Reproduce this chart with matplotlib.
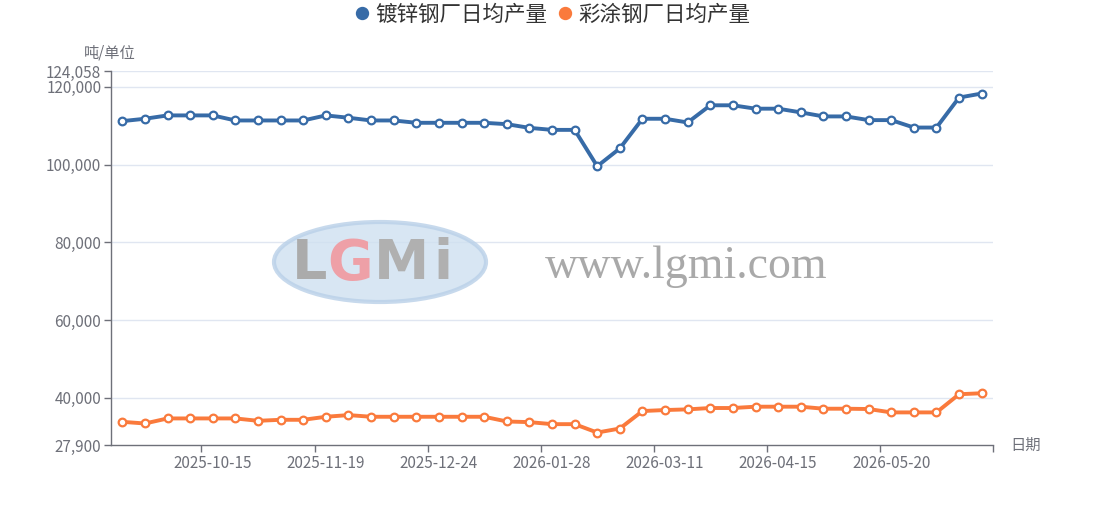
import matplotlib
matplotlib.use('Agg')
import matplotlib.pyplot as plt
from matplotlib.patches import Ellipse

plt.rcParams['font.family'] = ['Noto Sans CJK SC', 'DejaVu Sans']

# weekly dates (one week missing around the spring festival)
dates = ['2025-09-17', '2025-09-24', '2025-10-01', '2025-10-08', '2025-10-15',
         '2025-10-22', '2025-10-29', '2025-11-05', '2025-11-12', '2025-11-19',
         '2025-11-26', '2025-12-03', '2025-12-10', '2025-12-17', '2025-12-24',
         '2025-12-31', '2026-01-07', '2026-01-14', '2026-01-21', '2026-01-28',
         '2026-02-04', '2026-02-11', '2026-02-25', '2026-03-04', '2026-03-11',
         '2026-03-18', '2026-03-25', '2026-04-01', '2026-04-08', '2026-04-15',
         '2026-04-22', '2026-04-29', '2026-05-06', '2026-05-13', '2026-05-20',
         '2026-05-27', '2026-06-03', '2026-06-10', '2026-06-17']

galv = [111170, 111780, 112640, 112640, 112640, 111340, 111340, 111340, 111340, 112640,
        112040, 111340, 111340, 110740, 110740, 110740, 110740, 110390, 109440, 108920,
        108920, 99570, 104160, 111780, 111780, 110820, 115240, 115240, 114370, 114370,
        113420, 112380, 112380, 111430, 111430, 109520, 109520, 117230, 118270]

coated = [33860, 33430, 34730, 34730, 34730, 34730, 34120, 34380, 34380, 35160,
          35590, 35160, 35160, 35160, 35160, 35160, 35160, 33950, 33780, 33260,
          33260, 31100, 32140, 36630, 36890, 37060, 37410, 37410, 37750, 37750,
          37750, 37230, 37230, 37150, 36280, 36280, 36280, 40950, 41210]

series_names = ['镀锌钢厂日均产量', '彩涂钢厂日均产量']
colors = ['#376ba7', '#fa7a3c']

y_min, y_max = 27900, 124058
y_ticks = [27900, 40000, 60000, 80000, 100000, 120000, 124058]
label_idx = [4, 9, 14, 19, 24, 29, 34]

W, H = 1105, 530
fig = plt.figure(figsize=(W / 100, H / 100), dpi=100)
ax = fig.add_axes([111 / W, 1 - 445 / H, (993 - 111) / W, (445 - 71) / H])

x = list(range(len(dates)))
ax.set_xlim(-0.5, len(dates) - 0.5)
ax.set_ylim(y_min, y_max)

# grid
for yv in y_ticks[1:]:
    ax.axhline(yv, color='#e0e6f1', lw=1, zorder=1)

# watermark
def fx(px):
    return px / W

def fy(py):
    return 1 - py / H

ell = Ellipse((fx(380), fy(262)), 212 / W, 80 / H, transform=fig.transFigure,
              facecolor='#cfe0f0', edgecolor='#b9d0e8', lw=3, alpha=0.8, zorder=2)
ax.add_artist(ell)
wm = dict(transform=fig.transFigure, fontsize=40, fontweight='bold',
          va='center', ha='left', zorder=3, family='DejaVu Sans')
ax.text(fx(292), fy(264), 'L', color='#ababab', **wm)
ax.text(fx(327), fy(264), 'G', color='#eea0a7', **wm)
ax.text(fx(374), fy(264), 'M', color='#b0b0b0', **wm)
ax.text(fx(433), fy(264), 'i', color='#b0b0b0', **wm)
ax.text(fx(686), fy(267), 'www.lgmi.com', transform=fig.transFigure, fontsize=33,
        family='Liberation Serif', color='#a9a9a9', ha='center', va='center', zorder=3)

for vals, c, name in zip([galv, coated], colors, series_names):
    ax.plot(x, vals, color=c, lw=2.8, marker='o', ms=5.5, mfc='white', mec=c,
            mew=1.6, label=name, zorder=5, clip_on=False)

# axes styling
for s in ['top', 'right']:
    ax.spines[s].set_visible(False)
for s in ['left', 'bottom']:
    ax.spines[s].set_color('#6e7079')
    ax.spines[s].set_linewidth(1)

ax.set_yticks(y_ticks)
ax.set_yticklabels([f'{v:,}' for v in y_ticks])
ax.tick_params(axis='y', colors='#6e7079', labelcolor='#6e7079', labelsize=11,
               length=5, width=1, pad=2)

ax.set_xticks(label_idx)
ax.set_xticklabels([dates[i] for i in label_idx])
ax.set_xticks([i - 0.5 for i in label_idx] + [len(dates) - 0.5], minor=True)
ax.tick_params(axis='x', which='major', length=0, labelcolor='#6e7079', labelsize=11, pad=7)
ax.tick_params(axis='x', which='minor', length=5, width=1, colors='#6e7079')

fig.text(fx(110), fy(53), '吨/单位', ha='center', va='center', fontsize=11, color='#6e7079')
fig.text(fx(1026), fy(445), '日期', ha='center', va='center', fontsize=11, color='#6e7079')

leg = fig.legend(loc='center', bbox_to_anchor=(fx(553), fy(15)), ncol=2, frameon=False,
                 fontsize=15.5, handlelength=0.6, handletextpad=0.3, columnspacing=0.55,
                 labelcolor='#333333')
for h, c in zip(leg.legend_handles, colors):
    h.set_linestyle('none')
    h.set_marker('o')
    h.set_markerfacecolor(c)
    h.set_markeredgecolor(c)
    h.set_markersize(8)

fig.savefig('out.png', dpi=100)
